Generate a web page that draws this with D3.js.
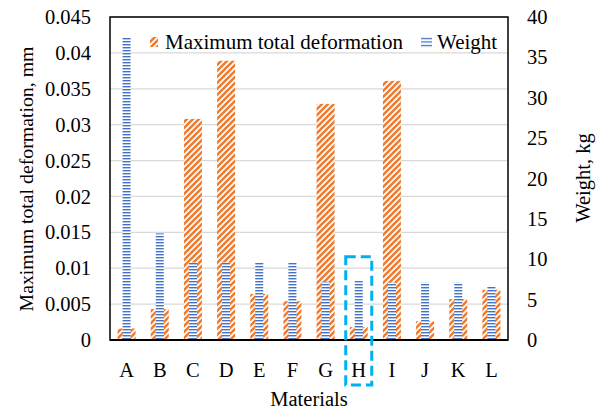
<!DOCTYPE html>
<html><head><meta charset="utf-8">
<script src="https://cdn.jsdelivr.net/npm/d3@7"></script>
<style>body{margin:0;background:#fff}svg{display:block}</style>
</head><body><svg id="c" width="603" height="411"></svg>
<script>
const categories = ["A","B","C","D","E","F","G","H","I","J","K","L"];
const deformation = [0.0016,0.0043,0.0308,0.0389,0.0064,0.0054,0.0329,0.0018,0.0361,0.0026,0.0057,0.0070];
const weight = [37.5,13.2,9.6,9.6,9.6,9.6,7.2,7.3,7.1,7.1,7.1,6.7];
const leftTicks = [0,0.005,0.01,0.015,0.02,0.025,0.03,0.035,0.04,0.045];
const rightTicks = [0,5,10,15,20,25,30,35,40];
const seriesNames = ["Maximum total deformation","Weight"];
const highlight = "H";

const FONT = "'Times New Roman', 'Liberation Serif', 'DejaVu Serif', serif";
const svg = d3.select("#c").style("font-family", FONT);
const L = 110, R = 508, T = 17, B = 340;
const fs = 20.5;
const x = d3.scaleBand().domain(categories).range([L,R]);
const yL = d3.scaleLinear().domain([0,0.045]).range([B,T]);
const yR = d3.scaleLinear().domain([0,40]).range([B,T]);

const defs = svg.append("defs");
const po = defs.append("pattern").attr("id","po").attr("patternUnits","userSpaceOnUse").attr("width",6).attr("height",6);
po.append("rect").attr("width",6).attr("height",6).attr("fill","#fff");
po.append("path").attr("d","M-1,7 L7,-1 M-4,4 L4,-4 M2,10 L10,2").attr("stroke","#ED7D31").attr("stroke-width",2.6);
const pb = defs.append("pattern").attr("id","pb").attr("patternUnits","userSpaceOnUse").attr("width",8).attr("height",3).attr("y",B);
pb.append("rect").attr("width",8).attr("height",3).attr("fill","#fff");
pb.append("rect").attr("y",1).attr("width",8).attr("height",1.4).attr("fill","#4472C4");

svg.append("g").selectAll("line").data(leftTicks.slice(1)).join("line")
  .attr("x1",L).attr("x2",R).attr("y1",d=>yL(d)).attr("y2",d=>yL(d))
  .attr("stroke","#D9D9D9").attr("stroke-width",1.3);

const ow = 18, bw = 8;
svg.append("g").selectAll("rect").data(categories).join("rect")
  .attr("x",(d)=>x(d)+x.bandwidth()/2-ow/2).attr("width",ow)
  .attr("y",(d,i)=>yL(deformation[i])).attr("height",(d,i)=>B-yL(deformation[i]))
  .attr("fill","url(#po)");
svg.append("g").selectAll("rect").data(categories).join("rect")
  .attr("x",(d)=>x(d)+x.bandwidth()/2-bw/2).attr("width",bw)
  .attr("y",(d,i)=>yR(weight[i])).attr("height",(d,i)=>B-yR(weight[i]))
  .attr("fill","url(#pb)");

svg.append("rect").attr("x",L).attr("y",T).attr("width",R-L).attr("height",B-T)
  .attr("fill","none").attr("stroke","#000").attr("stroke-width",1.5);
svg.append("line").attr("x1",L).attr("x2",R).attr("y1",B).attr("y2",B).attr("stroke","#000").attr("stroke-width",2.2);

const axL = d3.axisLeft(yL).tickValues(leftTicks).tickSize(0).tickPadding(19).tickFormat(d=>String(+d.toFixed(3)));
const gL = svg.append("g").attr("transform",`translate(${L},0)`).call(axL);
const axR = d3.axisRight(yR).tickValues(rightTicks).tickSize(0).tickPadding(19);
const gR = svg.append("g").attr("transform",`translate(${R},0)`).call(axR);
const axB = d3.axisBottom(x).tickSize(0).tickPadding(22);
const gB = svg.append("g").attr("transform",`translate(0,${B})`).call(axB);
[gL,gR,gB].forEach(g=>{g.attr("font-family",FONT).attr("font-size",fs);g.select(".domain").remove();g.selectAll("text").attr("fill","#000");});

svg.append("text").attr("transform","translate(33,179) rotate(-90)").attr("text-anchor","middle").attr("font-size",19.8).text("Maximum total deformation, mm");
svg.append("text").attr("transform","translate(590,178) rotate(-90)").attr("text-anchor","middle").attr("font-size",fs).text("Weight, kg");
svg.append("text").attr("x",(L+R)/2).attr("y",406).attr("text-anchor","middle").attr("font-size",fs).text("Materials");

const lg = svg.append("g");
lg.append("rect").attr("x",150).attr("y",37).attr("width",8).attr("height",10).attr("fill","url(#po)");
lg.append("text").attr("x",165).attr("y",49).attr("font-size",21).text(seriesNames[0]);
const lb = defs.append("pattern").attr("id","lb").attr("patternUnits","userSpaceOnUse").attr("width",11).attr("height",3.5).attr("y",37);
lb.append("rect").attr("y",0.8).attr("width",11).attr("height",1.3).attr("fill","#4472C4");
lg.append("rect").attr("x",421).attr("y",37).attr("width",11).attr("height",11).attr("fill","url(#lb)");
lg.append("text").attr("x",437).attr("y",49).attr("font-size",21).text(seriesNames[1]);

const hx = x(highlight)+x.bandwidth()/2;
svg.append("rect").attr("x",hx-13).attr("y",yR(10.3)).attr("width",26).attr("height",385-yR(10.3))
  .attr("fill","none").attr("stroke","#00B0F0").attr("stroke-width",3).attr("stroke-dasharray","10,5");
</script></body></html>
